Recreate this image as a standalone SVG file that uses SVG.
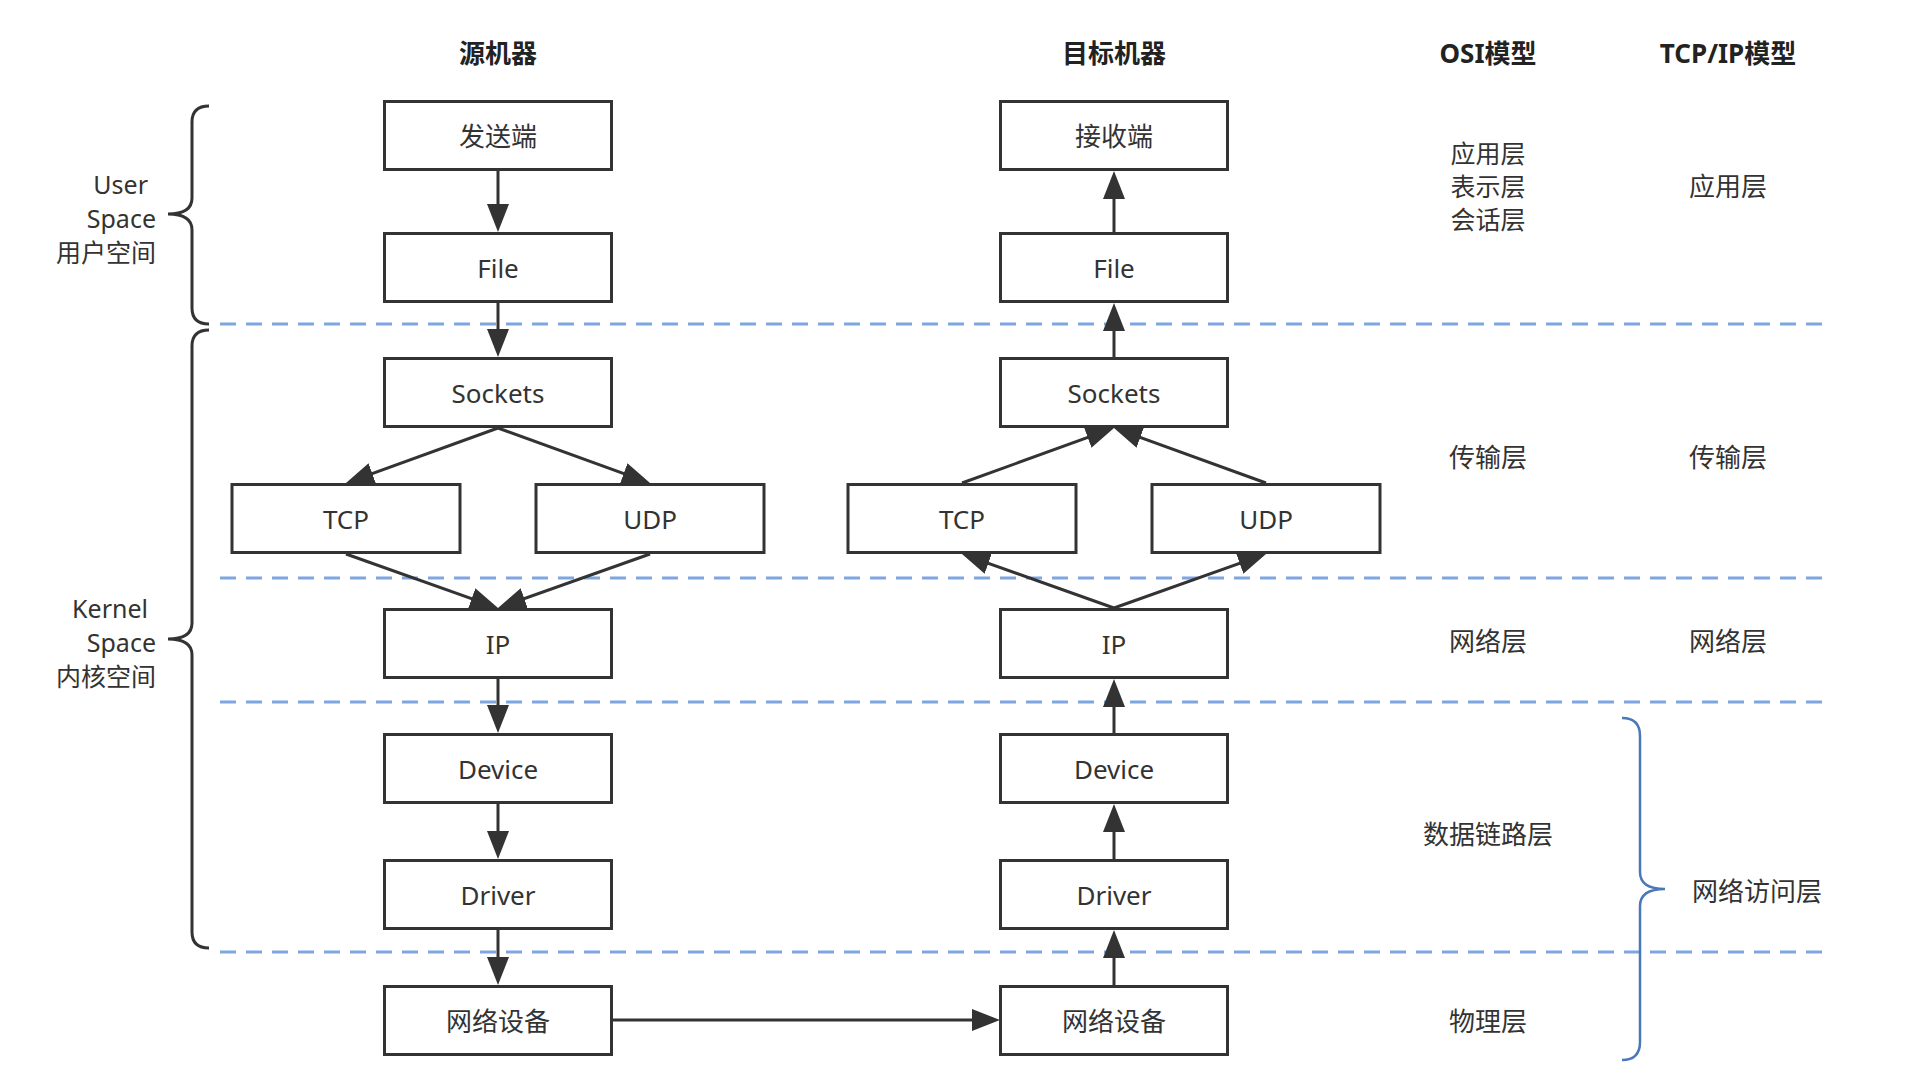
<svg xmlns="http://www.w3.org/2000/svg" width="1928" height="1076" viewBox="0 0 1928 1076">
  <style>
    .box { fill: #ffffff; stroke: #333333; stroke-width: 3; }
    .lbl { font-family: "Noto Sans", "Noto Sans CJK SC", sans-serif; font-size: 26px; fill: #333333; text-anchor: middle; dominant-baseline: central; }
    .stack { font-family: "Noto Sans", "Noto Sans CJK SC", sans-serif; font-size: 25px; fill: #333333; text-anchor: middle; dominant-baseline: central; }
    .ttl { font-family: "Noto Sans", "Noto Sans CJK SC", sans-serif; font-size: 26px; font-weight: bold; fill: #222222; text-anchor: middle; dominant-baseline: central; }
    .side { font-family: "Noto Sans", "Noto Sans CJK SC", sans-serif; font-size: 25px; fill: #333333; text-anchor: end; dominant-baseline: central; }
    .edge { fill: none; stroke: #333333; stroke-width: 3; marker-end: url(#head); }
    .sep { fill: none; stroke: #7ea6e0; stroke-width: 3; stroke-dasharray: 16 10; }
    .brace { fill: none; stroke: #333333; stroke-width: 3; }
    .brace-blue { fill: none; stroke: #4a78b8; stroke-width: 2.5; }
  </style>
  <defs>
    <marker id="head" markerUnits="userSpaceOnUse" markerWidth="28" markerHeight="22" refX="20" refY="11" orient="auto">
      <path d="M0,0 L28,11 L0,22 Z" fill="#333333"/>
    </marker>
  </defs>
  <rect width="1928" height="1076" fill="#ffffff"/>

  <!-- layer separators -->
  <g id="separators">
    <line class="sep" x1="220" y1="324" x2="1822" y2="324"/>
    <line class="sep" x1="220" y1="578" x2="1822" y2="578"/>
    <line class="sep" x1="220" y1="702" x2="1822" y2="702"/>
    <line class="sep" x1="220" y1="952" x2="1822" y2="952"/>
  </g>

  <!-- column titles -->
  <g id="titles">
    <text class="ttl" x="498" y="53">源机器</text>
    <text class="ttl" x="1114" y="53">目标机器</text>
    <text class="ttl" x="1488" y="53">OSI模型</text>
    <text class="ttl" x="1728" y="53">TCP/IP模型</text>
  </g>

  <!-- user / kernel space braces -->
  <g id="user-space">
    <path class="brace" d="M209,106 Q192,106 192,122 L192,198 Q192,214 168,214 Q192,214 192,230 L192,308 Q192,324 209,324"/>
    <text class="side" x="148" y="184">User</text>
    <text class="side" x="156" y="218">Space</text>
    <text class="side" x="156" y="252">用户空间</text>
  </g>
  <g id="kernel-space">
    <path class="brace" d="M209,330 Q192,330 192,346 L192,623 Q192,639 168,639 Q192,639 192,655 L192,932 Q192,948 209,948"/>
    <text class="side" x="148" y="608">Kernel</text>
    <text class="side" x="156" y="642">Space</text>
    <text class="side" x="156" y="676">内核空间</text>
  </g>

  <!-- source machine stack -->
  <g id="src-sender"><rect class="box" x="384.5" y="101.5" width="227" height="68"/><text class="lbl" x="498" y="135.5">发送端</text></g>
  <g id="src-file"><rect class="box" x="384.5" y="233.5" width="227" height="68"/><text class="lbl" x="498" y="267.5">File</text></g>
  <g id="src-sockets"><rect class="box" x="384.5" y="358.5" width="227" height="68"/><text class="lbl" x="498" y="392.5">Sockets</text></g>
  <g id="src-tcp"><rect class="box" x="232" y="484.5" width="228" height="68"/><text class="lbl" x="346" y="518.5">TCP</text></g>
  <g id="src-udp"><rect class="box" x="536" y="484.5" width="228" height="68"/><text class="lbl" x="650" y="518.5">UDP</text></g>
  <g id="src-ip"><rect class="box" x="384.5" y="609.5" width="227" height="68"/><text class="lbl" x="498" y="643.5">IP</text></g>
  <g id="src-device"><rect class="box" x="384.5" y="734.5" width="227" height="68"/><text class="lbl" x="498" y="768.5">Device</text></g>
  <g id="src-driver"><rect class="box" x="384.5" y="860.5" width="227" height="68"/><text class="lbl" x="498" y="894.5">Driver</text></g>
  <g id="src-nic"><rect class="box" x="384.5" y="986.5" width="227" height="68"/><text class="lbl" x="498" y="1020.5">网络设备</text></g>

  <!-- target machine stack -->
  <g id="dst-receiver"><rect class="box" x="1000.5" y="101.5" width="227" height="68"/><text class="lbl" x="1114" y="135.5">接收端</text></g>
  <g id="dst-file"><rect class="box" x="1000.5" y="233.5" width="227" height="68"/><text class="lbl" x="1114" y="267.5">File</text></g>
  <g id="dst-sockets"><rect class="box" x="1000.5" y="358.5" width="227" height="68"/><text class="lbl" x="1114" y="392.5">Sockets</text></g>
  <g id="dst-tcp"><rect class="box" x="848" y="484.5" width="228" height="68"/><text class="lbl" x="962" y="518.5">TCP</text></g>
  <g id="dst-udp"><rect class="box" x="1152" y="484.5" width="228" height="68"/><text class="lbl" x="1266" y="518.5">UDP</text></g>
  <g id="dst-ip"><rect class="box" x="1000.5" y="609.5" width="227" height="68"/><text class="lbl" x="1114" y="643.5">IP</text></g>
  <g id="dst-device"><rect class="box" x="1000.5" y="734.5" width="227" height="68"/><text class="lbl" x="1114" y="768.5">Device</text></g>
  <g id="dst-driver"><rect class="box" x="1000.5" y="860.5" width="227" height="68"/><text class="lbl" x="1114" y="894.5">Driver</text></g>
  <g id="dst-nic"><rect class="box" x="1000.5" y="986.5" width="227" height="68"/><text class="lbl" x="1114" y="1020.5">网络设备</text></g>

  <!-- connectors -->
  <g id="connectors">
    <!-- down through the source stack -->
    <line class="edge" x1="498" y1="171" x2="498" y2="224"/>
    <line class="edge" x1="498" y1="303" x2="498" y2="349"/>
    <line class="edge" x1="498" y1="428" x2="353.5" y2="480.3"/>
    <line class="edge" x1="498" y1="428" x2="642.5" y2="480.3"/>
    <line class="edge" x1="346" y1="554" x2="490.5" y2="605.3"/>
    <line class="edge" x1="650" y1="554" x2="505.5" y2="605.3"/>
    <line class="edge" x1="498" y1="679" x2="498" y2="725"/>
    <line class="edge" x1="498" y1="804" x2="498" y2="851"/>
    <line class="edge" x1="498" y1="930" x2="498" y2="977"/>
    <!-- across the wire -->
    <line class="edge" x1="613" y1="1020" x2="992" y2="1020"/>
    <!-- up through the target stack -->
    <line class="edge" x1="1114" y1="985" x2="1114" y2="938"/>
    <line class="edge" x1="1114" y1="859" x2="1114" y2="812"/>
    <line class="edge" x1="1114" y1="733" x2="1114" y2="687"/>
    <line class="edge" x1="1114" y1="608" x2="969.5" y2="556.7"/>
    <line class="edge" x1="1114" y1="608" x2="1258.5" y2="556.7"/>
    <line class="edge" x1="962" y1="483" x2="1106.5" y2="430.7"/>
    <line class="edge" x1="1266" y1="483" x2="1121.5" y2="430.7"/>
    <line class="edge" x1="1114" y1="357" x2="1114" y2="311"/>
    <line class="edge" x1="1114" y1="232" x2="1114" y2="179"/>
  </g>

  <!-- OSI model layers -->
  <g id="osi">
    <text class="stack" x="1488" y="153">应用层</text>
    <text class="stack" x="1488" y="186">表示层</text>
    <text class="stack" x="1488" y="219">会话层</text>
    <text class="lbl" x="1488" y="457">传输层</text>
    <text class="lbl" x="1488" y="641">网络层</text>
    <text class="lbl" x="1488" y="834">数据链路层</text>
    <text class="lbl" x="1488" y="1021">物理层</text>
  </g>

  <!-- TCP/IP model layers -->
  <g id="tcpip">
    <text class="lbl" x="1728" y="186">应用层</text>
    <text class="lbl" x="1728" y="457">传输层</text>
    <text class="lbl" x="1728" y="641">网络层</text>
    <path class="brace-blue" d="M1622,718 Q1640,718 1640,736 L1640,872 Q1640,889 1665,889 Q1640,889 1640,906 L1640,1042 Q1640,1060 1622,1060"/>
    <text class="lbl" x="1757" y="891">网络访问层</text>
  </g>
</svg>
